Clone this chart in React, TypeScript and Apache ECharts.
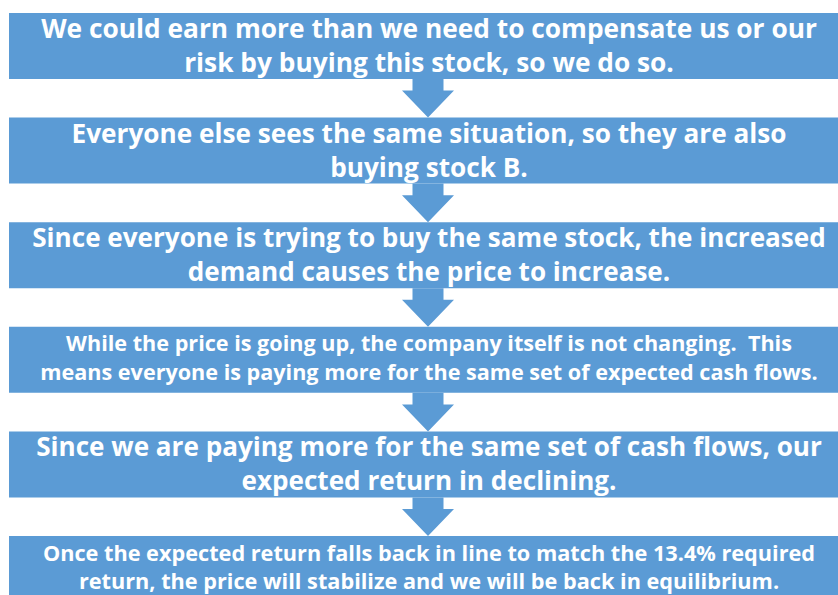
import React, { useEffect, useRef } from "react";
import * as echarts from "echarts";

const steps: string[] = [
  "We could earn more than we need to compensate us or our\nrisk by buying this stock, so we do so.",
  "Everyone else sees the same situation, so they are also\nbuying stock B.",
  "Since everyone is trying to buy the same stock, the increased\ndemand causes the price to increase.",
  "While the price is going up, the company itself is not changing.  This\nmeans everyone is paying more for the same set of expected cash flows.",
  "Since we are paying more for the same set of cash flows, our\nexpected return in declining.",
  "Once the expected return falls back in line to match the 13.4% required\nreturn, the price will stabilize and we will be back in equilibrium.",
];
const stepFontSizes: number[] = [26.3, 26.2, 26.1, 21.6, 26.1, 21.7];
const stepLineHeights: number[] = [34, 34, 34, 29, 34, 28];

const BLUE = "#5B9BD5";

export default function App() {
  const ref = useRef<HTMLDivElement>(null);
  useEffect(() => {
    if (!ref.current) return;
    const chart = echarts.init(ref.current, null, { renderer: "svg" });
    const boxLeft = 9;
    const boxWidth = 842;
    const boxHeight = 66;
    const firstTop = 13;
    const step = 104.6;
    const cx = 428;
    const elements: any[] = [];
    steps.forEach((txt, i) => {
      const top = firstTop + i * step;
      const small = stepFontSizes[i] < 24;
      elements.push({
        type: "rect",
        shape: { x: boxLeft, y: top, width: boxWidth, height: boxHeight },
        style: { fill: BLUE },
      });
      elements.push({
        type: "text",
        x: cx + 1,
        y: top + boxHeight / 2 - (small ? 3 : 1),
        style: {
          text: txt,
          fill: "#ffffff",
          fontFamily: "Open Sans",
          fontWeight: "bold",
          fontSize: stepFontSizes[i],
          lineHeight: stepLineHeights[i],
          align: "center",
          verticalAlign: "middle",
        },
      });
      if (i < steps.length - 1) {
        const y0 = top + boxHeight;
        const y1 = firstTop + (i + 1) * step;
        const headTop = y1 - 27;
        const sw = 15.5;
        const hw = 26;
        elements.push({
          type: "polygon",
          shape: {
            points: [
              [cx - sw, y0],
              [cx + sw, y0],
              [cx + sw, headTop],
              [cx + hw, headTop],
              [cx, y1],
              [cx - hw, headTop],
              [cx - sw, headTop],
            ],
          },
          style: { fill: BLUE },
        });
      }
    });
    chart.setOption({
      animation: false,
      backgroundColor: "#ffffff",
      graphic: { elements },
    });
    return () => chart.dispose();
  }, []);
  return (
    <div
      ref={ref}
      style={{ position: "fixed", left: 0, top: 0, width: 838, height: 595 }}
    />
  );
}
